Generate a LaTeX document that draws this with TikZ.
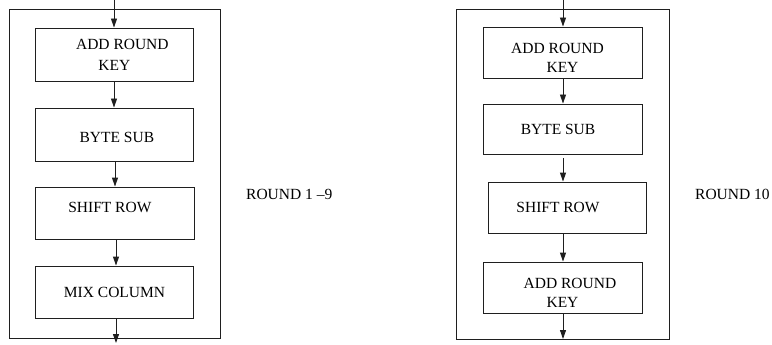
\documentclass[tikz,border=0pt]{standalone}
\usepackage{fontspec}
\setmainfont{Liberation Serif}
\usetikzlibrary{arrows.meta}
\definecolor{linec}{gray}{0.12}
\begin{document}
\begin{tikzpicture}[x=1pt,y=-1pt,
  stagebox/.style={draw=linec, line width=0.9pt, inner sep=0pt,
    align=center, font=\fontsize{15.5}{21}\selectfont},
  flow/.style={draw=linec, line width=0.9pt,
    -{Triangle[length=9pt,width=6pt]}},
  panelframe/.style={draw=linec, line width=0.9pt},
  roundlabel/.style={inner sep=0pt, anchor=west,
    font=\fontsize{15.5}{19}\selectfont}]
\useasboundingbox (0,0) rectangle (772,345);

% ---- rounds 1 to 9 ----
\draw[panelframe] (9.5,9) rectangle (220,338);
\node[stagebox, minimum width=157.3pt, minimum height=53pt] (l1) at (114.35,54.5)
  {\hspace*{16pt}ADD ROUND\\KEY};
\node[stagebox, minimum width=157.3pt, minimum height=53pt] (l2) at (114.35,134.5)
  {\rule{0pt}{15.5pt}\kern5pt BYTE SUB};
\node[stagebox, minimum width=158.3pt, minimum height=52pt] (l3) at (114.85,213)
  {SHIFT ROW\kern10pt\rule[-12pt]{0pt}{12pt}};
\node[stagebox, minimum width=157.6pt, minimum height=52pt] (l4) at (114.5,292)
  {MIX COLUMN};
\node[roundlabel] (lround) at (246,194) {ROUND 1 –9};

\coordinate (lin)  at (114,0);
\coordinate (la)   at (114,0);
\coordinate (lb)   at (115,0);
\coordinate (lc)   at (116,0);
\coordinate (lout) at (116,343);
\draw[flow] (lin) -- (l1.north -| lin);
\draw[flow] (l1.south -| la) -- (l2.north -| la);
\draw[flow] (l2.south -| lb) -- (l3.north -| lb);
\draw[flow] (l3.south -| lc) -- (l4.north -| lc);
\draw[flow] (l4.south -| lout) -- (lout);

% ---- round 10 ----
\draw[panelframe] (456.7,9) rectangle (669,339);
\node[stagebox, minimum width=159pt, minimum height=51pt] (r1) at (562.5,52.5)
  {\rule{0pt}{20.3pt}ADD ROUND\kern10pt\\[-2pt]KEY};
\node[stagebox, minimum width=159pt, minimum height=50pt] (r2) at (562.5,129)
  {BYTE SUB\kern9pt};
\node[stagebox, minimum width=158pt, minimum height=51pt] (r3) at (567,207.5)
  {SHIFT ROW\kern18pt};
\node[stagebox, minimum width=159pt, minimum height=51pt] (r4) at (562.5,287.5)
  {\rule{0pt}{20.3pt}\kern15pt ADD ROUND\\[-2pt]KEY};
\node[roundlabel] (rround) at (695,194) {ROUND 10};

\coordinate (rin)  at (563,0);
\coordinate (rout) at (563,339);
\draw[flow] (rin) -- (r1.north -| rin);
\draw[flow] (r1.south -| rin) -- (r2.north -| rin);
\draw[flow, shorten <=4pt] (r2.south -| rin) -- (r3.north -| rin);
\draw[flow] (r3.south -| rin) -- (r4.north -| rin);
\draw[flow] (r4.south -| rout) -- (rout);
\end{tikzpicture}
\end{document}
